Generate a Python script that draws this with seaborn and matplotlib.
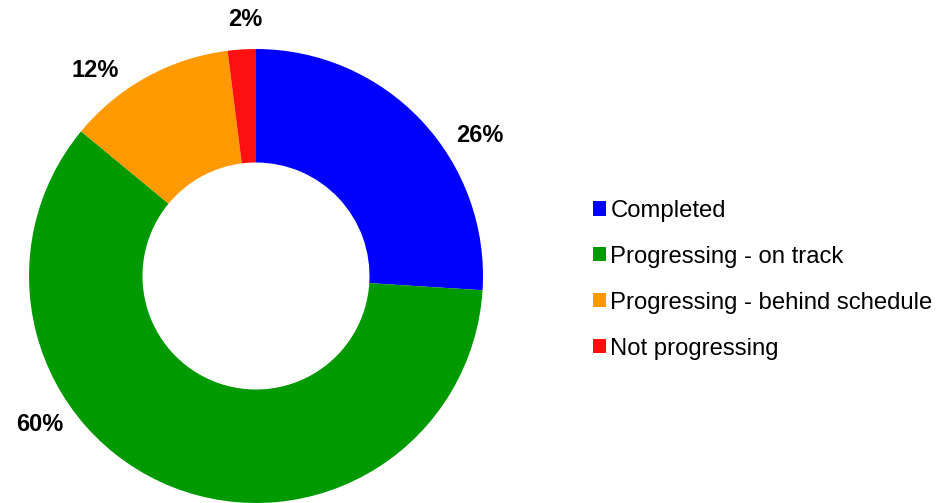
import seaborn as sns
import matplotlib.pyplot as plt
from matplotlib.patches import Patch

categories = ["Completed", "Progressing - on track",
              "Progressing - behind schedule", "Not progressing"]
shares = [26, 60, 12, 2]
colors = ["#0000FF", "#009900", "#FF9900", "#FF1010"]
pct_labels = ["26%", "60%", "12%", "2%"]
# where the percent labels sit (data units, ring radius = 1)
label_xy = [(0.987, 0.621), (-0.954, -0.652), (-0.709, 0.905), (-0.046, 1.132)]

sns.set_theme(style="white")
plt.rcParams['font.family'] = ['Liberation Sans', 'DejaVu Sans']
plt.rcParams['text.color'] = 'black'

fig = plt.figure(figsize=(9.38, 5.03), dpi=100)
ax = fig.add_axes([0, 0, 1, 1])

ax.pie(shares, colors=colors, startangle=90, counterclock=False,
       radius=1.0, wedgeprops=dict(width=0.5, linewidth=0))

for txt, (x, y) in zip(pct_labels, label_xy):
    ax.text(x, y, txt, ha="center", va="center", fontsize=17,
            fontweight="bold", color="black")

ax.set_xlim(-256 / 227, (938 - 256) / 227)
ax.set_ylim((276 - 503) / 227, 276 / 227)
ax.set_aspect("equal")
ax.axis("off")

handles = [Patch(facecolor=c, edgecolor="none") for c in colors]
leg = ax.legend(handles, categories, loc="upper left",
                bbox_to_anchor=(593 / 938, 1 - 200 / 503), bbox_transform=fig.transFigure,
                frameon=False, fontsize=17.2, handlelength=0.53, handleheight=0.53,
                handletextpad=0.2, labelspacing=1.0, borderpad=0, borderaxespad=0)
for t in leg.get_texts():
    t.set_color("black")

fig.savefig("out.png", dpi=100)
